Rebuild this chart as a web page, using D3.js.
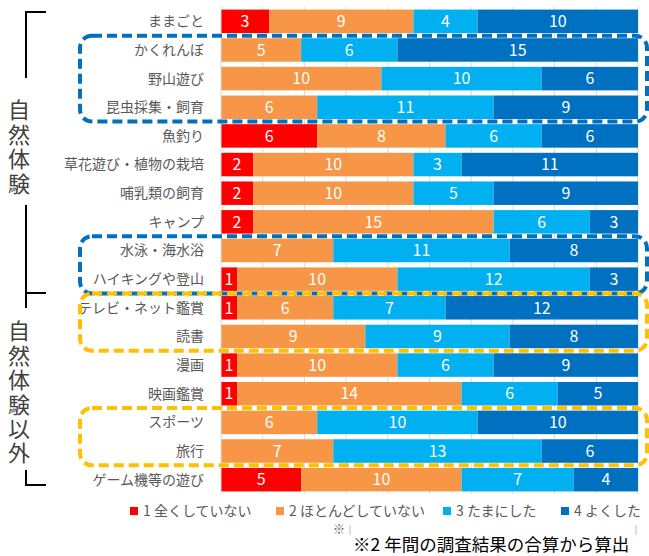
<!DOCTYPE html>
<html><head><meta charset="utf-8">
<script src="https://cdn.jsdelivr.net/npm/d3@7"></script>
<style>body{margin:0;background:#fff;}svg{display:block;}</style>
</head><body>
<svg id="c" width="649" height="556"></svg>
<script>
const categories = ["ままごと","かくれんぼ","野山遊び","昆虫採集・飼育","魚釣り","草花遊び・植物の栽培","哺乳類の飼育","キャンプ","水泳・海水浴","ハイキングや登山","テレビ・ネット鑑賞","読書","漫画","映画鑑賞","スポーツ","旅行","ゲーム機等の遊び"];
const seriesNames = ["1 全くしていない","2 ほとんどしていない","3 たまにした","4 よくした"];
const s1 = [3,0,0,0,6,2,2,2,0,1,1,0,1,1,0,0,5];
const s2 = [9,5,10,6,8,10,10,15,7,10,6,9,10,14,6,7,10];
const s3 = [4,6,10,11,6,3,5,6,11,12,7,9,6,6,10,13,7];
const s4 = [10,15,6,9,6,11,9,3,8,3,12,8,9,5,10,6,4];
const colors = ["#FF0000","#F79646","#00B0F0","#0070C0"];
const gridTicks = [0.1,0.2,0.3,0.4,0.5,0.6,0.7,0.8,0.9,1.0];
const groupLabels = ["自然体験","自然体験以外"];
const blueGroups = [[1,3],[8,9]];
const yellowGroups = [[10,11],[14,15]];
const note = "※2 年間の調査結果の合算から算出";

const FONT = "'Noto Sans CJK JP','Noto Sans',sans-serif";
const svg = d3.select("#c");
const x = d3.scaleLinear().domain([0,1]).range([221,638]);
const y = d3.scaleBand().domain(categories).range([7,494]).paddingInner(0.18).paddingOuter(0.09);

const data = categories.map((c,i)=>{
  const vals=[s1[i],s2[i],s3[i],s4[i]];
  const tot=d3.sum(vals);
  let acc=0;
  return vals.map((v,k)=>{const o={cat:c,k,v,x0:acc/tot,x1:(acc+v)/tot};acc+=v;return o;});
});

// gridlines
svg.append("g").selectAll("line").data(gridTicks).join("line")
  .attr("x1",d=>x(d)).attr("x2",d=>x(d)).attr("y1",7).attr("y2",494)
  .attr("stroke","#D9D9D9").attr("stroke-width",1);

// bars
const segs = svg.append("g").selectAll("g").data(data).join("g");
segs.selectAll("rect").data(d=>d.filter(s=>s.v>0)).join("rect")
  .attr("x",d=>x(d.x0)).attr("width",d=>x(d.x1)-x(d.x0))
  .attr("y",d=>y(d.cat)).attr("height",y.bandwidth())
  .attr("fill",d=>colors[d.k]);
segs.selectAll("text").data(d=>d.filter(s=>s.v>0)).join("text")
  .attr("x",d=>(x(d.x0)+x(d.x1))/2).attr("y",d=>y(d.cat)+y.bandwidth()/2)
  .attr("dy","0.36em").attr("text-anchor","middle")
  .attr("fill","#fff").attr("font-family",FONT).attr("font-size",16)
  .text(d=>d.v);

// axis line
svg.append("line").attr("x1",221).attr("x2",221).attr("y1",7).attr("y2",494)
  .attr("stroke","#D9D9D9").attr("stroke-width",1);

// category labels
svg.append("g").selectAll("text").data(categories).join("text")
  .attr("x",204).attr("y",d=>y(d)+y.bandwidth()/2).attr("dy","0.35em")
  .attr("text-anchor","end").attr("fill","#595959")
  .attr("font-family",FONT).attr("font-size",14).text(d=>d);

// dashed group boxes
const gap = y.step()-y.bandwidth();
function box(g,color){
  const top=y(categories[g[0]])-gap/2, bot=y(categories[g[1]])+y.bandwidth()+gap/2;
  svg.append("rect").attr("x",80).attr("y",top).attr("width",567).attr("height",bot-top)
    .attr("rx",12).attr("fill","none").attr("stroke",color).attr("stroke-width",4)
    .attr("stroke-dasharray","10,5");
}
blueGroups.forEach(g=>box(g,"#0070C0"));
yellowGroups.forEach(g=>box(g,"#FFC000"));

// brackets
const br = svg.append("g").attr("stroke","#000").attr("stroke-width",2).attr("fill","none");
br.append("path").attr("d","M46,12 H26 V78");
br.append("path").attr("d","M26,205 V308 M26,293 H46");
br.append("path").attr("d","M26,470 V485 H46");

// vertical group labels
function vlabel(txt,top){
  svg.append("text").attr("x",19).attr("y",top)
    .style("writing-mode","vertical-rl").style("letter-spacing","2.4px")
    .attr("fill","#404040").attr("font-family",FONT).attr("font-size",22).text(txt);
}
vlabel(groupLabels[0],99);
vlabel(groupLabels[1],320);

// legend
const legX=[130,276,443,561];
const leg = svg.append("g").selectAll("g").data(seriesNames).join("g")
  .attr("transform",(d,i)=>`translate(${legX[i]},511)`);
leg.append("rect").attr("x",0).attr("y",-4).attr("width",8).attr("height",8).attr("fill",(d,i)=>colors[i]);
leg.append("text").attr("x",13).attr("dy","0.35em").attr("fill","#595959")
  .attr("font-family",FONT).attr("font-size",14).text(d=>d);

// notes
svg.append("text").attr("x",333).attr("y",530).attr("dy","0.35em").attr("fill","#595959")
  .attr("font-family",FONT).attr("font-size",12).text("※");
svg.append("line").attr("x1",350).attr("x2",350).attr("y1",525).attr("y2",535).attr("stroke","#BFBFBF");
svg.append("line").attr("x1",636).attr("x2",636).attr("y1",525).attr("y2",535).attr("stroke","#BFBFBF");
svg.append("text").attr("x",353).attr("y",545).attr("dy","0.35em").attr("fill","#000")
  .attr("font-family",FONT).attr("font-size",17.5).text(note);
</script>
</body></html>
